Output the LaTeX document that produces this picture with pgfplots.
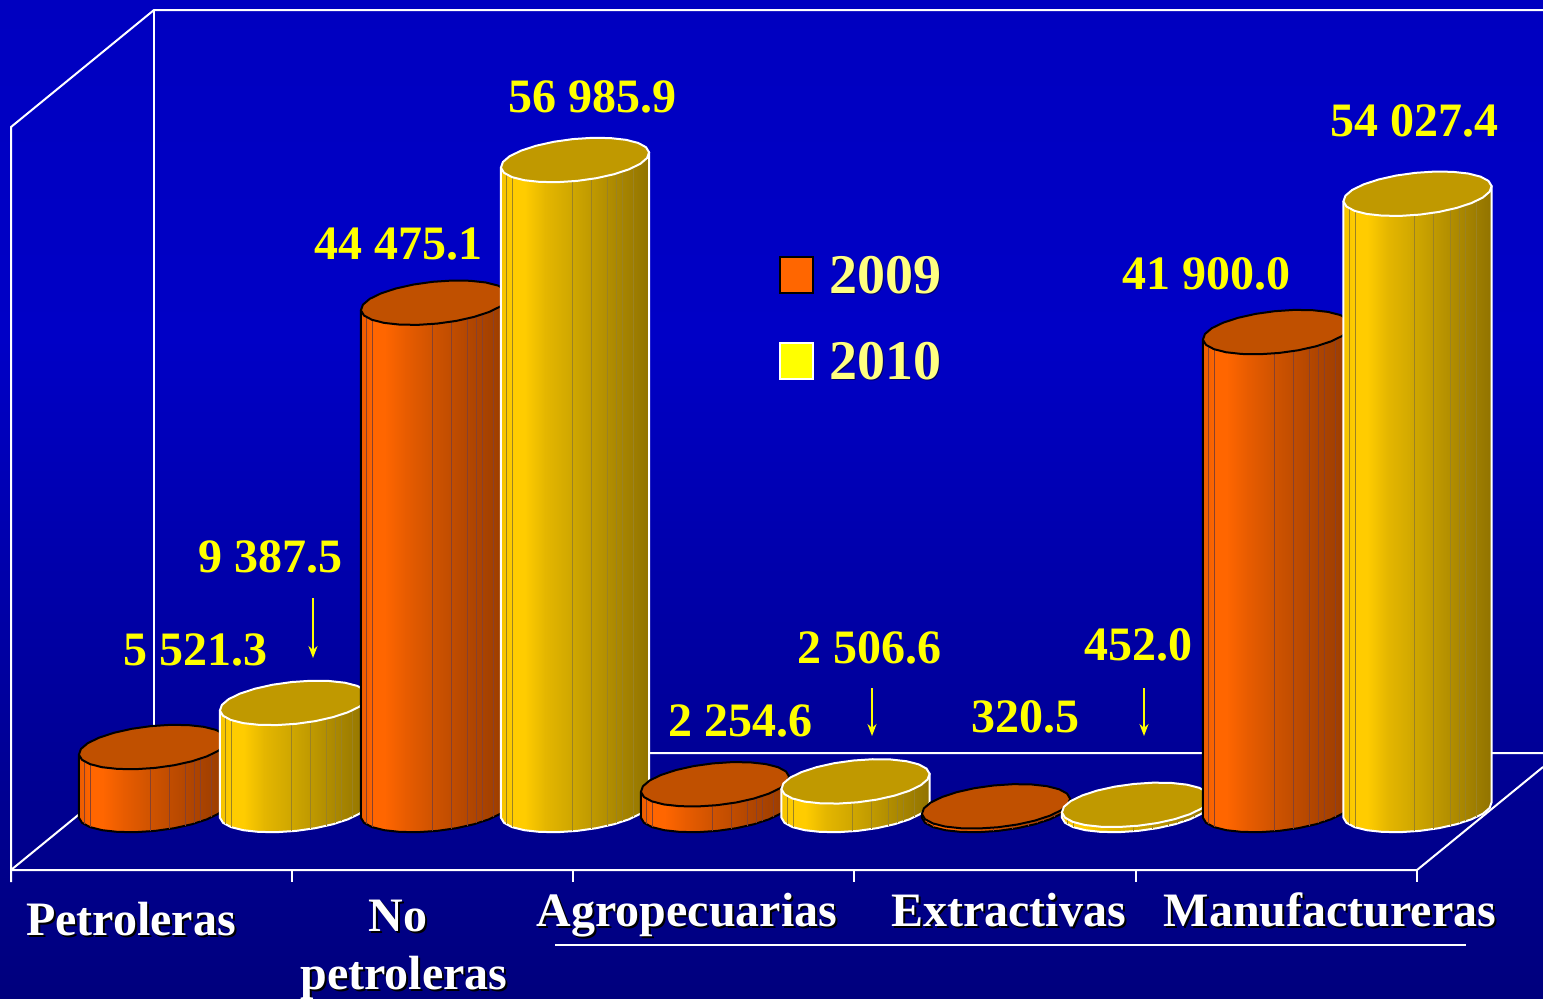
\documentclass[border=0pt]{standalone}
\usepackage{fontspec}
\setmainfont{Liberation Serif}
\usepackage{pgfplots}
\usepackage{pgfplotstable}
\pgfplotsset{compat=1.18}
\usetikzlibrary{arrows.meta}

\definecolor{pureyellow}{RGB}{255,255,0}
\definecolor{purewhite}{RGB}{255,255,255}
\definecolor{bgT}{RGB}{0,0,192}
\definecolor{bgM}{RGB}{0,0,198}
\definecolor{bgL}{RGB}{0,0,160}
\definecolor{bgB}{RGB}{0,0,125}
\pgfdeclareverticalshading{slidebg}{100bp}{
 color(0bp)=(bgB); color(25bp)=(bgB); color(42bp)=(bgL); color(58bp)=(bgM); color(75bp)=(bgT); color(100bp)=(bgT)}

\definecolor{o0}{RGB}{235,92,0}
\definecolor{o1}{RGB}{255,102,0}
\definecolor{o2}{RGB}{232,92,0}
\definecolor{o3}{RGB}{205,82,0}
\definecolor{o4}{RGB}{178,70,0}
\definecolor{o5}{RGB}{152,60,0}
\definecolor{oL}{RGB}{135,65,45}
\definecolor{y0}{RGB}{245,195,0}
\definecolor{y1}{RGB}{255,204,0}
\definecolor{y2}{RGB}{228,182,0}
\definecolor{y3}{RGB}{205,165,0}
\definecolor{y4}{RGB}{176,140,0}
\definecolor{y5}{RGB}{145,115,0}
\definecolor{yL}{RGB}{155,130,35}
\definecolor{oTop}{RGB}{192,80,0}
\definecolor{yTop}{RGB}{192,153,0}

% bands of the cylinder bodies; 25bp..75bp spans the body
\pgfdeclarehorizontalshading{cylO}{100bp}{
 color(0bp)=(o0); color(25bp)=(o0); color(29bp)=(o1); color(33bp)=(o1);
 color(40bp)=(o2); color(50bp)=(o3); color(62bp)=(o4); color(75bp)=(o5); color(100bp)=(o5)}
\pgfdeclarehorizontalshading{cylY}{100bp}{
 color(0bp)=(y0); color(25bp)=(y0); color(29bp)=(y1); color(33bp)=(y1);
 color(40bp)=(y2); color(50bp)=(y3); color(62bp)=(y4); color(75bp)=(y5); color(100bp)=(y5)}

% outline of a body: top = 1 follows the value, dx and dy are in pixels
\pgfplotstableread{
top dx dy
1 -74.1 -7.66
1 74.1 7.66
0 74.1 7.66
0 72.1 1.99
0 65.3 -3.82
0 53.9 -9.35
0 38.9 -14.26
0 21.3 -18.2
0 2.16 -20.89
0 -17.1 -22.16
0 -35.2 -21.92
0 -50.9 -20.19
0 -63.1 -17.08
0 -71.0 -12.81
0 -74.1 -7.66
}\profile

% the tilted, slightly faceted top of a cylinder
\pgfplotstableread{
top dx dy
1 74.1 7.66
1 72.1 1.99
1 65.3 -3.82
1 53.9 -9.35
1 38.9 -14.26
1 21.3 -18.2
1 2.16 -20.89
1 -17.1 -22.16
1 -35.2 -21.92
1 -50.9 -20.19
1 -63.1 -17.08
1 -71.0 -12.81
1 -74.1 -7.66
1 -72.1 -1.99
1 -65.3 3.82
1 -53.9 9.35
1 -38.9 14.26
1 -21.3 18.2
1 -2.16 20.89
1 17.1 22.16
1 35.2 21.92
1 50.9 20.19
1 63.1 17.08
1 71.0 12.81
}\topprofile

% thin vertical lines between bands
\pgfplotstableread{
top dx dy
1 -68.2 -14.3
0 -68.2 -14.3
nan nan nan
1 -62.2 -17.4
0 -62.2 -17.4
nan nan nan
1 -3 -21.2
0 -3 -21.2
nan nan nan
1 16.3 -18.9
0 16.3 -18.9
nan nan nan
1 32.6 -15.7
0 32.6 -15.7
nan nan nan
1 41.5 -13.4
0 41.5 -13.4
nan nan nan
1 47.4 -11.5
0 47.4 -11.5
nan nan nan
1 58.8 -7.0
0 58.8 -7.0
}\bandlines

% #1 centre in pixels, #2 value, #3 shading, #4 outline, #5 top colour, #6 band line colour
\newcommand\cyl[6]{%
 \addplot[shade, shading=#3, draw=#4, line width=2pt, line join=round, forget plot]
   table[x expr=\thisrow{dx}+#1, y expr=\thisrow{top}*#2+\thisrow{dy}*87.67]{\profile} --cycle;
 \addplot[draw=#6, line width=0.8pt, unbounded coords=jump, forget plot]
   table[x expr=\thisrow{dx}+#1, y expr=\thisrow{top}*#2+\thisrow{dy}*87.67]{\bandlines};
 \addplot[fill=#5, draw=#4, line width=2pt, line join=round, forget plot]
   table[x expr=\thisrow{dx}+#1, y expr=\thisrow{top}*#2+\thisrow{dy}*87.67]{\topprofile} --cycle;
}

\newcommand\val[3]{\node[text=pureyellow, font=\fontsize{48}{52}\selectfont\bfseries] at (axis cs:#1,#2) {#3};}
\newcommand\cat[3]{%
 \node[anchor=base, text=black, font=\fontsize{48}{52}\selectfont\bfseries, xshift=2pt, yshift=-2pt] at (axis cs:#1,#2) {#3};
 \node[anchor=base, text=white, font=\fontsize{48}{52}\selectfont\bfseries] at (axis cs:#1,#2) {#3};}
\newcommand\leg[3]{%
 \node[text=black!60!blue, font=\fontsize{56}{60}\selectfont\bfseries, xshift=1.5pt, yshift=-1.5pt] at (axis cs:#1,#2) {#3};
 \node[text={rgb,255:red,255;green,255;blue,128}, font=\fontsize{56}{60}\selectfont\bfseries] at (axis cs:#1,#2) {#3};}

\begin{document}
\begin{tikzpicture}
% frame, texts: pixel coordinates
\begin{axis}[at={(0,0)}, anchor=south west, scale only axis, width=1543pt, height=999pt,
  xmin=0, xmax=1543, ymin=0, ymax=999, y dir=reverse, hide axis, clip mode=individual]
 \path[shade, shading=slidebg] (axis cs:0,0) rectangle (axis cs:1543,999);
 \begin{scope}[draw=white, line width=2pt]
 \draw (axis cs:11,882) -- (axis cs:11,127) -- (axis cs:154,10) -- (axis cs:1543,10);
 \draw (axis cs:154,10) -- (axis cs:154,753);
 \draw (axis cs:11,870) -- (axis cs:154,753) -- (axis cs:1543,753);
 \draw (axis cs:11,870) -- (axis cs:1417,870) -- (axis cs:1543,767);
 \draw (axis cs:292,870) -- (axis cs:292,882);
 \draw (axis cs:573,870) -- (axis cs:573,882);
 \draw (axis cs:854,870) -- (axis cs:854,882);
 \draw (axis cs:1136,870) -- (axis cs:1136,882);
 \draw (axis cs:1417,870) -- (axis cs:1417,882);
 \draw (axis cs:555,945) -- (axis cs:1466,945);
 \end{scope}
 \val{592.5}{97}{56 985.9}
 \val{398}{243.5}{44 475.1}
 \val{270.5}{556.5}{9 387.5}
 \val{195.5}{650}{5 521.3}
 \val{740.5}{721}{2 254.6}
 \val{869.5}{648}{2 506.6}
 \val{1025.5}{717}{320.5}
 \val{1138}{645}{452.0}
 \val{1206.5}{273.5}{41 900.0}
 \val{1414.5}{121}{54 027.4}
 \draw[pureyellow, line width=2pt, -{Stealth[length=12pt,width=9pt]}] (axis cs:313,598) -- (axis cs:313,658);
 \draw[pureyellow, line width=2pt, -{Stealth[length=12pt,width=9pt]}] (axis cs:872,688) -- (axis cs:872,736);
 \draw[pureyellow, line width=2pt, -{Stealth[length=12pt,width=9pt]}] (axis cs:1144,688) -- (axis cs:1144,736);
 \cat{131}{935}{Petroleras}
 \cat{398}{931}{No}
 \cat{404}{989}{petroleras}
 \cat{687}{926}{Agropecuarias}
 \cat{1008.5}{926}{Extractivas}
 \cat{1330}{926}{Manufactureras}
 \filldraw[fill={rgb,255:red,255;green,102;blue,0}, draw=black, line width=2.5pt] (axis cs:780,257) rectangle (axis cs:813,293);
 \filldraw[fill=pureyellow, draw=white, line width=1.5pt] (axis cs:780,343) rectangle (axis cs:813,379);
 \leg{885}{275}{2009}
 \leg{885}{361}{2010}
\end{axis}
% the data: value scale, 0 at the cylinders' base
\begin{axis}[at={(0,0)}, anchor=south west, scale only axis, width=1543pt, height=999pt,
  xmin=0, xmax=1543, ymin=-16570, ymax=71013, hide axis]
 \cyl{153}{5521.3}{cylO}{black}{oTop}{oL}
 \cyl{294}{9387.5}{cylY}{white}{yTop}{yL}
 \cyl{435}{44475.1}{cylO}{black}{oTop}{oL}
 \cyl{575}{56985.9}{cylY}{white}{yTop}{yL}
 \cyl{715}{2254.6}{cylO}{black}{oTop}{oL}
 \cyl{855.5}{2506.6}{cylY}{white}{yTop}{yL}
 \cyl{996}{320.5}{cylO}{black}{oTop}{oL}
 \cyl{1136}{452.0}{cylY}{white}{yTop}{yL}
 \cyl{1277}{41900.0}{cylO}{black}{oTop}{oL}
 \cyl{1417.5}{54027.4}{cylY}{white}{yTop}{yL}
\end{axis}
\pgfresetboundingbox
\path[use as bounding box] (0,0) rectangle (1543pt,999pt);
\end{tikzpicture}
\end{document}
